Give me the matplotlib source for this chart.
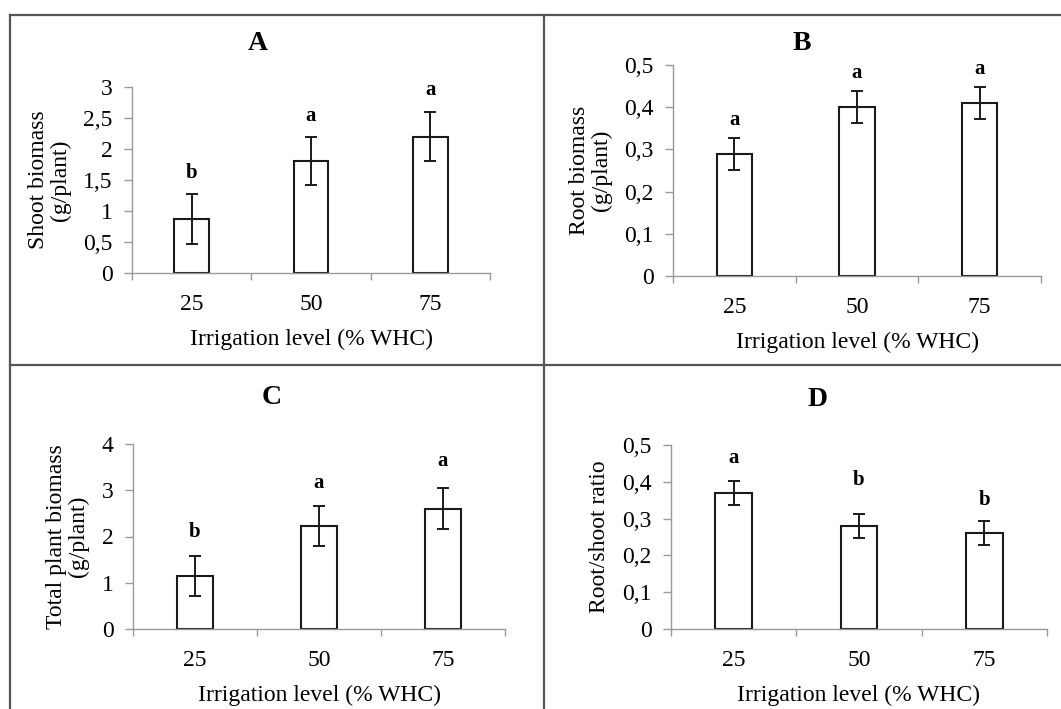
import numpy as np
import matplotlib
matplotlib.use("Agg")
import matplotlib.pyplot as plt
from matplotlib.lines import Line2D
from matplotlib.ticker import MultipleLocator, FixedLocator, FuncFormatter

# données
levels = ["25", "50", "75"]
shoot = [0.87, 1.81, 2.20]
shoot_err = [0.40, 0.39, 0.40]
shoot_letters = ["b", "a", "a"]
root = [0.29, 0.40, 0.41]
root_err = [0.038, 0.038, 0.038]
root_letters = ["a", "a", "a"]
total = [1.15, 2.22, 2.60]
total_err = [0.43, 0.43, 0.44]
total_letters = ["b", "a", "a"]
ratio = [0.37, 0.28, 0.26]
ratio_err = [0.033, 0.033, 0.033]
ratio_letters = ["a", "b", "b"]

W, H = 1061, 709
plt.rcParams["font.family"] = ["Liberation Serif", "DejaVu Serif"]

fig = plt.figure(figsize=(W / 100, H / 100), dpi=100)


def px_axes(left, right, top, bottom):
    '''Convertit une boîte en pixels en coordonnées de la figure'''
    return [left / W, 1 - bottom / H, (right - left) / W, (bottom - top) / H]


def panel(box, values, errs, letters, ymax, step, ylabel, title, title_xy, letter_pad):
    ax = fig.add_axes(px_axes(*box))
    x = np.arange(len(values)) + 0.5
    ax.bar(x, values, width=0.29, color="white", edgecolor="#1a1a1a", linewidth=1.5, zorder=2)
    ax.errorbar(x, values, yerr=errs, fmt="none", ecolor="#1a1a1a", elinewidth=1.4,
                capsize=4, capthick=1.4, zorder=3)
    for xi, v, e, lab, p in zip(x, values, errs, letters, letter_pad):
        ax.annotate(lab, (xi, v + e), xytext=(0, p), textcoords="offset points",
                    ha="center", va="center", fontsize=15, fontweight="bold")

    ax.set_xlim(0, len(values))
    ax.set_ylim(0, ymax)
    ax.yaxis.set_major_locator(MultipleLocator(step))
    ax.yaxis.set_major_formatter(FuncFormatter(lambda v, _: f"{v:g}".replace(".", ",")))
    ax.xaxis.set_major_locator(FixedLocator(np.arange(len(values) + 1)))
    ax.xaxis.set_minor_locator(FixedLocator(x))
    ax.set_xticklabels([], minor=False)
    ax.set_xticklabels(levels, minor=True)
    ax.tick_params(axis="x", which="major", length=5, color="#999999", width=1)
    ax.tick_params(axis="x", which="minor", length=0, pad=15, labelsize=17)
    ax.tick_params(axis="y", length=6, color="#999999", width=1, pad=8, labelsize=17)

    for s in ["top", "right"]:
        ax.spines[s].set_visible(False)
    for s in ["left", "bottom"]:
        ax.spines[s].set_color("#999999")
        ax.spines[s].set_linewidth(1)

    ax.set_xlabel("Irrigation level (% WHC)", fontsize=17, labelpad=10)
    ax.set_ylabel(ylabel, fontsize=17, labelpad=9, linespacing=1.05)
    fig.text(title_xy[0] / W, 1 - title_xy[1] / H, title, ha="center", va="center",
             fontsize=20, fontweight="bold")
    return ax


panel((132, 490, 87, 273), shoot, shoot_err, shoot_letters, 3, 0.5,
      "Shoot biomass\n(g/plant)", "A", (258, 43), [15, 15, 16])
panel((673, 1041, 65, 276), root, root_err, root_letters, 0.5, 0.1,
      "Root biomass\n(g/plant)", "B", (802, 43), [13, 13, 13])
panel((133, 505, 444, 629), total, total_err, total_letters, 4, 1,
      "Total plant biomass\n(g/plant)", "C", (272, 398), [17, 17, 20])
panel((671, 1047, 445, 629), ratio, ratio_err, ratio_letters, 0.5, 0.1,
      "Root/shoot ratio", "D", (818, 400), [16, 24, 15])

# cadres entre les panneaux
border = dict(color="#555555", linewidth=1.6)
fig.add_artist(Line2D([10 / W, 1], [1 - 15 / H, 1 - 15 / H], **border))
fig.add_artist(Line2D([10 / W, 10 / W], [0, 1 - 15 / H], **border))
fig.add_artist(Line2D([544 / W, 544 / W], [0, 1 - 15 / H], **border))
fig.add_artist(Line2D([10 / W, 1], [1 - 365 / H, 1 - 365 / H], **border))

fig.savefig("out.png", dpi=100)
